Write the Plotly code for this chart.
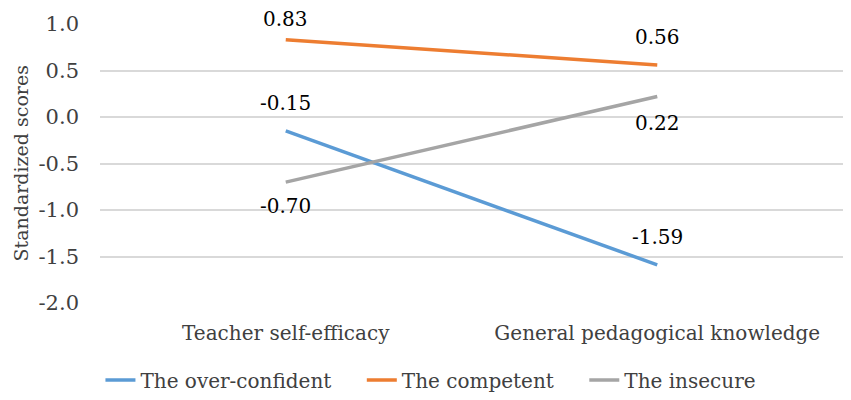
import plotly.graph_objects as go

categories = ["Teacher self-efficacy", "General pedagogical knowledge"]
series_names = ["The over-confident", "The competent", "The insecure"]
over_confident = [-0.15, -1.59]
competent = [0.83, 0.56]
insecure = [-0.70, 0.22]

y_ticks = [1.0, 0.5, 0.0, -0.5, -1.0, -1.5, -2.0]

colors = ["#5B9BD5", "#ED7D31", "#A5A5A5"]
# pixel offsets of the value labels (positive = above the point)
label_shift = [[28, 28], [21, 28], [-24, -26]]
# extra room after each legend entry (non-breaking spaces)
legend_pad = ["\u00a0" * 4, "\u00a0" * 4, ""]

font_family = "DejaVu Serif"
text_grey = "#404040"

fig = go.Figure()
for name, vals, color, pad in zip(series_names, [over_confident, competent, insecure], colors, legend_pad):
    fig.add_trace(go.Scatter(
        x=categories,
        y=vals,
        name=name + pad,
        mode="lines",
        line=dict(color=color, width=3.5),
    ))

for vals, shifts in zip([over_confident, competent, insecure], label_shift):
    for cat, v, s in zip(categories, vals, shifts):
        fig.add_annotation(
            x=cat, y=v,
            text=f"{v:.2f}",
            showarrow=False,
            yshift=s,
            font=dict(family=font_family, size=20, color="#000000"),
        )

# y axis title as a rotated annotation
fig.add_annotation(
    text="Standardized scores",
    xref="paper", yref="paper",
    x=0, y=0.5,
    xanchor="center", yanchor="middle",
    xshift=-80,
    textangle=-90,
    showarrow=False,
    font=dict(family=font_family, size=19, color=text_grey),
)

fig.update_layout(
    width=851,
    height=400,
    margin=dict(l=92, r=16, t=16, b=105, autoexpand=False),
    paper_bgcolor="white",
    plot_bgcolor="white",
    font=dict(family=font_family, size=20, color=text_grey),
    showlegend=True,
    legend=dict(
        orientation="h",
        xref="container", yref="container",
        x=0.497, xanchor="center",
        y=0.07, yanchor="middle",
        font=dict(family=font_family, size=20, color=text_grey),
        tracegroupgap=0,
    ),
)
fig.update_xaxes(
    type="category",
    range=[-0.5, 1.5],
    automargin=False,
    showgrid=False,
    showline=False,
    zeroline=False,
    ticks="",
    ticklabelstandoff=16,
    tickfont=dict(family=font_family, size=20, color=text_grey),
)
fig.update_yaxes(
    range=[-2.0, 1.0],
    automargin=False,
    tickvals=y_ticks,
    ticktext=[f"{v:.1f}" for v in y_ticks],
    showgrid=True,
    gridcolor="#D9D9D9",
    gridwidth=1.5,
    zeroline=False,
    showline=False,
    ticks="",
    ticklabelstandoff=20,
    tickfont=dict(family=font_family, size=21, color=text_grey),
)

fig.write_html("out.html")
